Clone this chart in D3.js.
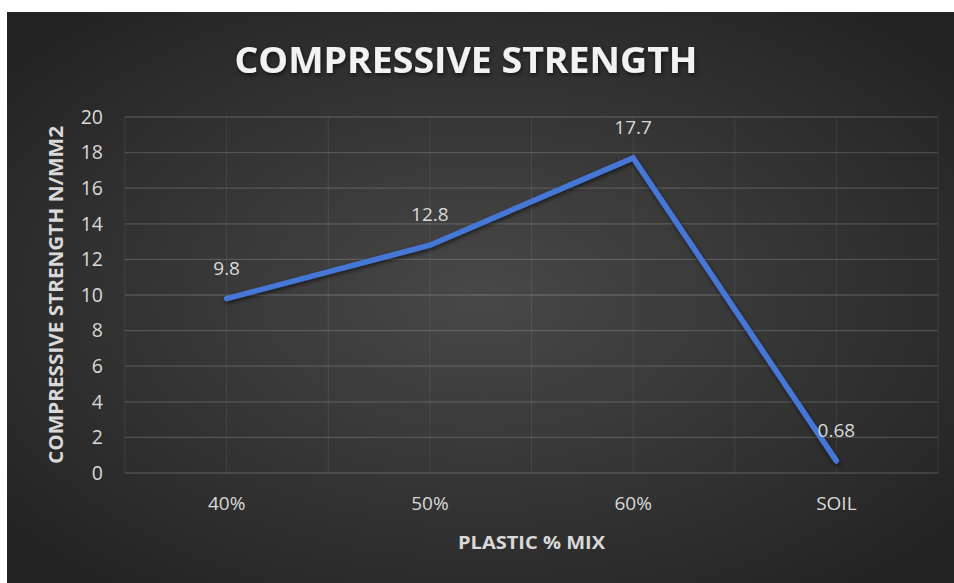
<!DOCTYPE html>
<html>
<head>
<meta charset="utf-8">
<script src="https://cdn.jsdelivr.net/npm/d3@7"></script>
<style>
  body { margin: 0; background: #fff; }
  svg { display: block; }
</style>
</head>
<body>
<script>
var categories = ["40%", "50%", "60%", "SOIL"];
var values = [9.8, 12.8, 17.7, 0.68];
var labels = ["9.8", "12.8", "17.7", "0.68"];
var yTicks = [0, 2, 4, 6, 8, 10, 12, 14, 16, 18, 20];

var W = 954, H = 583;
var margin = {top: 117, right: 16, bottom: 110, left: 125};
var width = 938 - margin.left,
    height = 473 - margin.top;

var svg = d3.select("body").append("svg")
    .attr("width", W)
    .attr("height", H);

var defs = svg.append("defs");
var grad = defs.append("radialGradient")
    .attr("id", "bg")
    .attr("cx", "50%").attr("cy", "50%").attr("r", "65%");
grad.append("stop").attr("offset", "0%").attr("stop-color", "#484848");
grad.append("stop").attr("offset", "100%").attr("stop-color", "#232323");

var shadow = defs.append("filter").attr("id", "shadow")
    .attr("x", "-10%").attr("y", "-10%").attr("width", "120%").attr("height", "120%");
shadow.append("feDropShadow")
    .attr("dx", 1).attr("dy", 2).attr("stdDeviation", 2)
    .attr("flood-color", "#000").attr("flood-opacity", 0.6);

svg.append("rect")
    .attr("x", 7).attr("y", 12)
    .attr("width", W - 7).attr("height", H - 12)
    .attr("fill", "url(#bg)");

var g = svg.append("g")
    .attr("transform", "translate(" + margin.left + "," + margin.top + ")");

var x = d3.scaleBand().domain(categories).range([0, width]);
var y = d3.scaleLinear().domain([0, 20]).range([height, 0]);

// vertical gridlines at band edges and centres
var vLines = [];
categories.forEach(function(c) {
  vLines.push(x(c));
  vLines.push(x(c) + x.bandwidth() / 2);
});
vLines.push(width);

g.selectAll(".vgrid")
  .data(vLines)
  .enter().append("line")
    .attr("class", "vgrid")
    .attr("x1", function(d) { return d; })
    .attr("x2", function(d) { return d; })
    .attr("y1", 0)
    .attr("y2", height)
    .attr("stroke", "rgba(255,255,255,0.08)")
    .attr("stroke-width", 1);

// horizontal gridlines
g.selectAll(".hgrid")
  .data(yTicks)
  .enter().append("line")
    .attr("class", "hgrid")
    .attr("x1", 0)
    .attr("x2", width)
    .attr("y1", function(d) { return y(d); })
    .attr("y2", function(d) { return y(d); })
    .attr("stroke", "rgba(255,255,255,0.16)")
    .attr("stroke-width", 1.3);

// y axis
var yAxis = g.append("g")
    .call(d3.axisLeft(y).tickValues(yTicks).tickSize(0).tickPadding(22));
yAxis.select(".domain").remove();
yAxis.selectAll("text")
    .attr("fill", "#d9d9d9")
    .style("font-family", "'Open Sans', sans-serif")
    .style("font-size", "19.5px");

// x axis
var xAxis = g.append("g")
    .attr("transform", "translate(0," + height + ")")
    .call(d3.axisBottom(x).tickSize(0).tickPadding(24));
xAxis.select(".domain").remove();
xAxis.selectAll("text")
    .attr("fill", "#d9d9d9")
    .style("font-family", "'Open Sans', sans-serif")
    .style("font-size", "19px");

// line
var line = d3.line()
    .x(function(d, i) { return x(categories[i]) + x.bandwidth() / 2; })
    .y(function(d) { return y(d); });

g.append("path")
    .datum(values)
    .attr("fill", "none")
    .attr("stroke", "#4677d6")
    .attr("stroke-width", 5.5)
    .attr("stroke-linejoin", "miter")
    .attr("stroke-linecap", "round")
    .attr("filter", "url(#shadow)")
    .attr("d", line);

// data labels
g.selectAll(".dlabel")
  .data(values)
  .enter().append("text")
    .attr("class", "dlabel")
    .attr("x", function(d, i) { return x(categories[i]) + x.bandwidth() / 2; })
    .attr("y", function(d) { return y(d) - 24; })
    .attr("text-anchor", "middle")
    .attr("fill", "#d9d9d9")
    .style("font-family", "'Open Sans', sans-serif")
    .style("font-size", "19px")
    .text(function(d, i) { return labels[i]; });

// title
svg.append("text")
    .attr("x", 466)
    .attr("y", 73)
    .attr("text-anchor", "middle")
    .attr("fill", "#f2f2f2")
    .attr("filter", "url(#shadow)")
    .attr("textLength", 463)
    .attr("lengthAdjust", "spacingAndGlyphs")
    .style("font-family", "'Open Sans', sans-serif")
    .style("font-weight", "bold")
    .style("font-size", "36px")
    .text("COMPRESSIVE STRENGTH");

// axis titles
svg.append("text")
    .attr("transform", "translate(63," + (margin.top + height / 2) + ") rotate(-90)")
    .attr("text-anchor", "middle")
    .attr("fill", "#d9d9d9")
    .attr("textLength", 338)
    .attr("lengthAdjust", "spacingAndGlyphs")
    .style("font-family", "'Open Sans', sans-serif")
    .style("font-weight", "bold")
    .style("font-size", "19px")
    .text("COMPRESSIVE STRENGTH N/MM2");

svg.append("text")
    .attr("x", margin.left + width / 2)
    .attr("y", 549)
    .attr("text-anchor", "middle")
    .attr("fill", "#d9d9d9")
    .attr("textLength", 147)
    .attr("lengthAdjust", "spacingAndGlyphs")
    .style("font-family", "'Open Sans', sans-serif")
    .style("font-weight", "bold")
    .style("font-size", "18px")
    .text("PLASTIC % MIX");
</script>
</body>
</html>
